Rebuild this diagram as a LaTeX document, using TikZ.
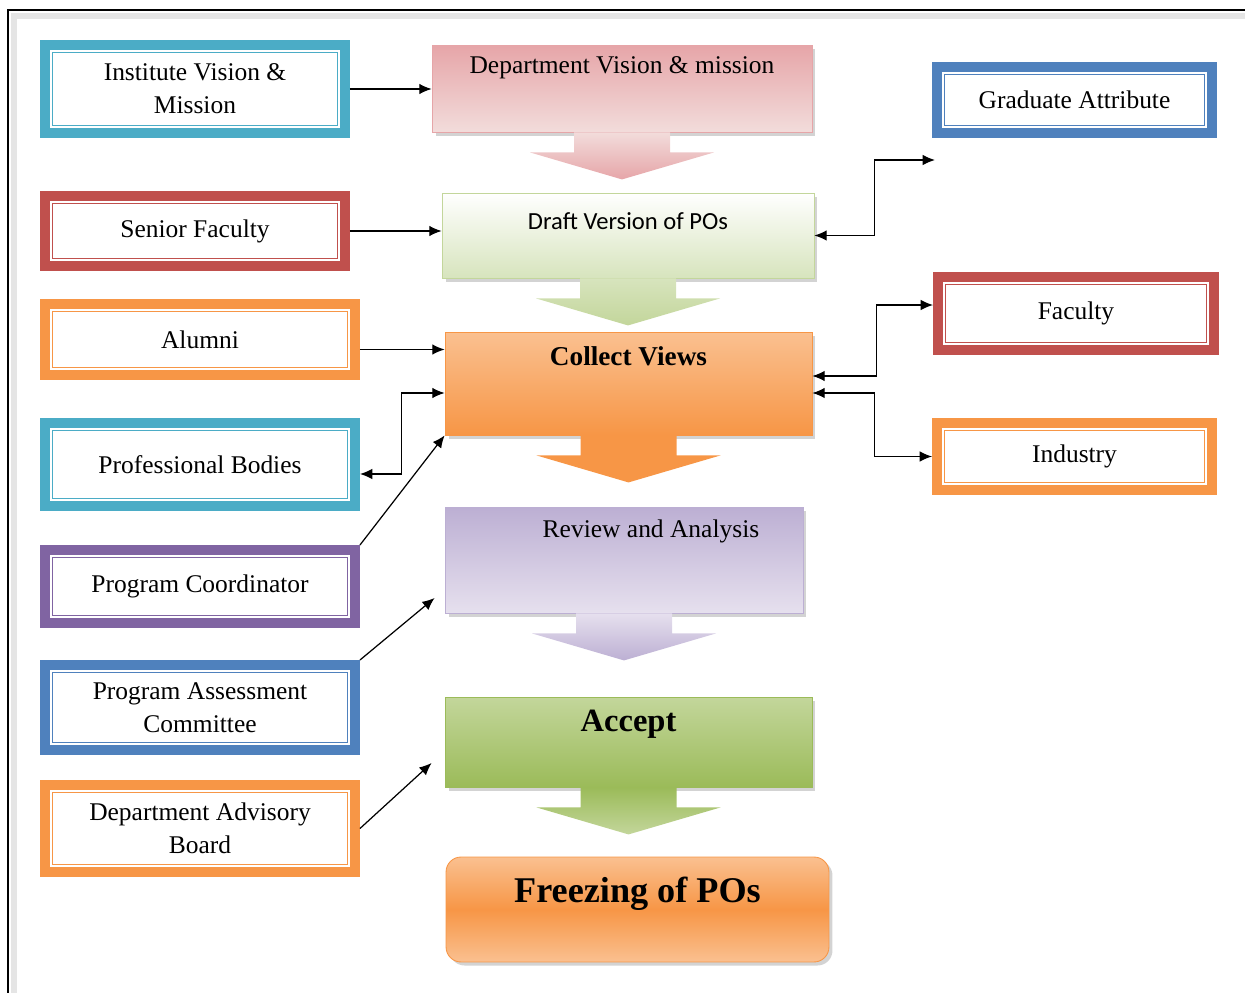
\documentclass[tikz,border=0pt]{standalone}
\usepackage{fontspec}
\setmainfont{Liberation Serif}
\newfontfamily\draftfont{Carlito}
\usetikzlibrary{arrows.meta, shadows}

\definecolor{tealbox}{HTML}{4BACC6}
\definecolor{redbox}{HTML}{C0504D}
\definecolor{orangebox}{HTML}{F79646}
\definecolor{purplebox}{HTML}{8064A2}
\definecolor{bluebox}{HTML}{4F81BD}
\definecolor{pinktop}{HTML}{E6A5A8}
\definecolor{pinkbot}{HTML}{F2DCDB}
\definecolor{greenbot}{HTML}{D7E4BD}
\definecolor{greenmid}{HTML}{C3D69B}
\definecolor{orangetop}{HTML}{FAC090}
\definecolor{lavtop}{HTML}{BCAFD3}
\definecolor{lavbot}{HTML}{E6E0EE}
\definecolor{acceptbot}{HTML}{9BBB59}

\tikzset{
    >={Latex[length=7pt, width=6pt]},
    flow/.style={->, line width=0.7pt},
    srcbox/.style={
        draw=#1,
        line width=0.2cm,
        fill=white,
        align=center,
        minimum width=6.2cm,
        path picture={\draw[#1, line width=0.7pt]
            ([shift={(0.15cm,0.15cm)}]path picture bounding box.south west) rectangle
            ([shift={(-0.15cm,-0.15cm)}]path picture bounding box.north east);}},
    stage/.style={
        rectangle,
        line width=0.5pt,
        drop shadow={opacity=0.35, shadow xshift=2pt, shadow yshift=-2pt}}
}

\begin{document}
\begin{tikzpicture}[x=0.02cm, y=-0.02cm,
    every node/.style={font=\fontsize{14.5}{18.7}\selectfont}]

    \useasboundingbox (0,0) rectangle (1245,993);

    % frame
    \draw[black!10, line width=0.12cm] (14,993) -- (14,16) -- (1245,16);
    \draw[line width=1.2pt] (8,993) -- (8,10) -- (1245,10);

    % inputs on the left
    \node[srcbox=tealbox, minimum width=6.0cm, minimum height=1.76cm] (inst) at (195,89) {Institute Vision \&\\Mission};
    \node[srcbox=redbox, minimum width=6.0cm, minimum height=1.4cm] (senior) at (195,231) {Senior Faculty};
    \node[srcbox=orangebox, minimum height=1.42cm] (alumni) at (200,339.5) {Alumni};
    \node[srcbox=tealbox, minimum height=1.66cm] (profbod) at (200,464.5) {Professional Bodies};
    \node[srcbox=purplebox, minimum height=1.46cm] (progcoord) at (200,586.5) {Program Coordinator};
    \node[srcbox=bluebox, minimum height=1.7cm] (pac) at (200,707.5) {Program Assessment\\Committee};
    \node[srcbox=orangebox, minimum height=1.74cm] (dab) at (200,828.5) {Department Advisory\\Board};

    % inputs on the right
    \node[srcbox=bluebox, minimum width=5.5cm, minimum height=1.32cm] (grad) at (1074.5,100) {Graduate Attribute};
    \node[srcbox=redbox, minimum width=5.52cm, minimum height=1.46cm] (faculty) at (1076,313.5) {Faculty};
    \node[srcbox=orangebox, minimum width=5.5cm, minimum height=1.34cm] (industry) at (1074.5,456.5) {Industry};

    % stages
    \node[stage, draw=pinktop, top color=pinktop, bottom color=pinkbot,
        minimum width=7.6cm, minimum height=1.74cm,
        label={[anchor=center, yshift=-0.46cm]north:Department Vision \& mission}] (dvm) at (622,88.5) {};
    \node[stage, draw=greenmid, top color=white, bottom color=greenbot,
        minimum width=7.44cm, minimum height=1.7cm,
        label={[anchor=center, yshift=-0.58cm, font=\draftfont\fontsize{14}{17}\selectfont]north:Draft Version of POs}] (draft) at (628,235.5) {};
    \node[stage, draw=orangebox, top color=orangetop, bottom color=orangebox,
        minimum width=7.34cm, minimum height=2.06cm,
        label={[anchor=center, yshift=-0.5cm, font=\bfseries\fontsize{15.5}{19}\selectfont]north:Collect Views}] (collect) at (628.5,383.5) {};
    \node[stage, draw=lavtop, top color=lavtop, bottom color=lavbot,
        minimum width=7.16cm, minimum height=2.12cm,
        label={[anchor=center, xshift=0.54cm, yshift=-0.5cm]north:Review and Analysis}] (review) at (624,560) {};
    \node[stage, draw=acceptbot, top color=greenmid, bottom color=acceptbot,
        minimum width=7.34cm, minimum height=1.8cm,
        label={[anchor=center, yshift=-0.56cm, font=\bfseries\fontsize{18.5}{22}\selectfont]north:Accept}] (accept) at (628.5,742) {};
    \node[stage, draw=orangebox, rounded corners=0.3cm, top color=orangetop, bottom color=orangetop, middle color=orangebox,
        minimum width=7.66cm, minimum height=2.1cm,
        label={[anchor=center, yshift=-0.74cm, font=\bfseries\fontsize{20.6}{24}\selectfont]north:Freezing of POs}] (freeze) at (637.5,909.5) {};

    % block arrows under the stages
    \foreach \st/\ctop/\cbot in {dvm/pinkbot/pinktop, draft/greenbot/greenmid, collect/orangebox/orangebox,
                                 review/lavbot/lavtop, accept/acceptbot/greenmid}
        \shade[top color=\ctop, bottom color=\cbot] (\st.south) +(-48,0) -- +(-48,20) -- +(-92,20)
            -- +(0,47) -- +(92,20) -- +(48,20) -- +(48,0) -- cycle;

    % connectors
    \draw[flow] (inst.east) -- (inst.east -| dvm.west);
    \draw[flow] (senior.east) -- (senior.east -| draft.west);
    \draw[flow] ([yshift=-0.2cm]alumni.east) -- ([yshift=-0.2cm]alumni.east -| collect.west);
    \draw[flow, <->] ([yshift=-0.19cm]collect.west) -- ++(-43,0) |- ([yshift=-0.19cm]profbod.east);
    \draw[flow] (progcoord.north east) -- (collect.south west);
    \draw[flow] (pac.north east) -- ([xshift=-0.2cm, yshift=-0.76cm]review.west);
    \draw[flow] (dab.east) -- ([xshift=-0.26cm, yshift=-0.42cm]accept.west);

    \coordinate (gradin) at (935,160);
    \draw[flow, <->] (draft.east) -- ++(60,0) |- (gradin);
    \draw[flow, <->] ([yshift=0.15cm]collect.east) -- ++(64,0) |- ([yshift=0.17cm]faculty.west);
    \draw[flow, <->] ([yshift=-0.19cm]collect.east) -- ++(62,0) |- (industry.west);
\end{tikzpicture}
\end{document}
